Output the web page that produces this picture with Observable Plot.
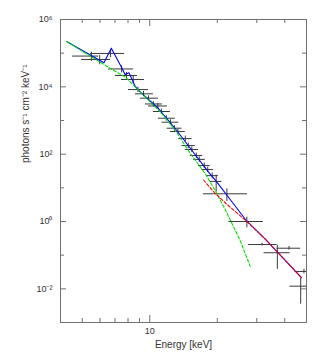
<!DOCTYPE html>
<html>
<head>
<meta charset="utf-8">
<script src="https://cdn.jsdelivr.net/npm/d3@7"></script>
<script src="https://cdn.jsdelivr.net/npm/@observablehq/plot@0.6"></script>
<style>
  html, body { margin: 0; padding: 0; background: #fff; }
  #chart svg { display: block; }
</style>
</head>
<body>
<div id="chart"></div>
<script>
// ---- Data points (energy bins, flux, 1-sigma error) ----
const binLo  = [4.52, 4.97, 5.45, 6.55, 7.04, 7.48, 8.04, 8.64, 9.09, 9.57, 9.87, 10.38, 10.93, 11.35, 11.95, 12.36, 13.46, 13.93, 14.41, 15.17, 15.69, 16.51, 17.10, 17.99, 18.61, 17.38, 22.54, 27.54, 32.34, 36.95, 44.43, 42.21];
const binHi  = [5.92, 6.69, 7.72, 8.47, 8.82, 9.47, 9.87, 10.38, 10.93, 11.39, 11.99, 12.36, 13.01, 13.46, 13.93, 14.41, 15.43, 15.96, 16.51, 17.20, 17.69, 18.61, 19.24, 20.26, 20.98, 27.27, 32.11, 36.95, 42.21, 47.10, 52.86, 50.0];
const binMid = [5.49, 5.98, 6.69, 7.49, 7.88, 8.44, 8.86, 9.38, 9.87, 10.38, 10.87, 11.27, 11.86, 12.36, 12.88, 13.35, 14.41, 14.86, 15.40, 16.13, 16.63, 17.50, 18.14, 18.99, 19.78, 22.08, 27.10, 31.69, 37.06, 41.78, 48.7, 47.10];
const flux   = [8.2e4, 6.5e4, 9.8e4, 3.4e4, 2.17e4, 1.65e4, 8.3e3, 6.2e3, 4.6e3, 3.1e3, 2.7e3, 1850, 1170, 890, 590, 470, 290, 180, 138, 91, 70, 46, 35, 23, 15.5, 6.65, 1.0, 0.207, 0.118, 0.161, 0.0328, 0.012];
const fluxErr= [2.5e4, 2.0e4, 2.5e4, 8e3, 5e3, 4e3, 1500, 1100, 800, 550, 480, 330, 210, 160, 110, 85, 52, 33, 25, 17, 13, 8.5, 6.5, 4.5, 8, 2.7, 0.35, 0.02, 0.08, 0.02, 0.005, 0.0085];

// ---- Model curves ----
const totalE    = [4.26, 6.25, 6.74, 7.54, 7.76, 8.08, 8.34, 8.64, 9.09, 10.96, 13.01, 15.43, 18.29, 19.93, 22.84, 27.10, 32.67, 47.56];
const totalF    = [2.22e5, 5.18e4, 1.41e5, 3.44e4, 2.32e4, 2.61e4, 1.65e4, 9.9e3, 6.93e3, 2.23e3, 568, 128.5, 29.2, 14.7, 4.51, 1.02, 0.303, 0.0213];
const thermalE  = [4.26, 6.68, 7.80, 8.94, 11.35, 13.01, 15.17, 17.69, 19.59, 21.70, 25.30, 28.03];
const thermalF  = [2.22e5, 3.5e4, 1.93e4, 7.78e3, 1.58e3, 505, 105, 26.1, 8.34, 2.28, 0.273, 0.0471];
const nonthermE = [17.38, 19.59, 22.38, 25.82, 28.03, 32.67, 47.56];
const nonthermF = [17.1, 6.79, 2.99, 1.32, 0.817, 0.303, 0.0213];

// ---- Ticks and labels ----
const xMajor = [10];
const xMinor = [5, 6, 7, 8, 9, 20, 30, 40];
const xTickLabels = ["10"];
const yMajor = [1e6, 1e4, 1e2, 1, 1e-2];
const yMinor = [1e5, 1e3, 10, 0.1];
const yTickLabels = ["10\u2076", "10\u2074", "10\u00B2", "10\u2070", "10\u207B\u00B2"];
const xTitle = "Energy [keV]";
const yTitle = "photons s\u207B\u00B9 cm\u207B\u00B2 keV\u207B\u00B9";

const W = 324, H = 360, mL = 60, mR = 18, mT = 19, mB = 38;
const innerW = W - mL - mR, innerH = H - mT - mB;

const points = binMid.map((e, i) => ({lo: binLo[i], hi: binHi[i], e, f: flux[i], fl: flux[i] - fluxErr[i], fh: flux[i] + fluxErr[i]}));
const total = totalE.map((e, i) => ({e, f: totalF[i]}));
const thermal = thermalE.map((e, i) => ({e, f: thermalF[i]}));
const nontherm = nonthermE.map((e, i) => ({e, f: nonthermF[i]}));

const axisColor = "#707070";
const textColor = "#333";
const crossColor = "#3a3a3a";

const chart = Plot.plot({
  width: W, height: H,
  marginLeft: mL, marginRight: mR, marginTop: mT, marginBottom: mB,
  style: {fontFamily: "'Liberation Sans', Arial, sans-serif", background: "#fff"},
  x: {type: "log", domain: [4, 50], axis: null},
  y: {type: "log", domain: [1e-3, 1e6], axis: null},
  marks: [
    // data crosses
    Plot.ruleY(points, {y: "f", x1: "lo", x2: "hi", stroke: crossColor, strokeWidth: 1, clip: true}),
    Plot.ruleX(points, {x: "e", y1: "fl", y2: "fh", stroke: crossColor, strokeWidth: 1, clip: true}),
    // model curves
    Plot.line(total, {x: "e", y: "f", stroke: "#0000ff", strokeWidth: 1.1}),
    Plot.line(thermal, {x: "e", y: "f", stroke: "#00e000", strokeWidth: 1.1, strokeDasharray: "3,2"}),
    Plot.line(nontherm, {x: "e", y: "f", stroke: "#ff0000", strokeWidth: 1.1, strokeDasharray: "3,2"}),
    // frame
    Plot.frame({stroke: axisColor}),
    // inward ticks
    Plot.tickX(xMajor, {x: d => d, insetTop: innerH - 7, stroke: axisColor}),
    Plot.tickX(xMajor, {x: d => d, insetBottom: innerH - 7, stroke: axisColor}),
    Plot.tickX(xMinor, {x: d => d, insetTop: innerH - 4, stroke: axisColor}),
    Plot.tickX(xMinor, {x: d => d, insetBottom: innerH - 4, stroke: axisColor}),
    Plot.tickY(yMajor, {y: d => d, insetRight: innerW - 6, stroke: axisColor}),
    Plot.tickY(yMajor, {y: d => d, insetLeft: innerW - 6, stroke: axisColor}),
    Plot.tickY(yMinor, {y: d => d, insetRight: innerW - 4, stroke: axisColor}),
    Plot.tickY(yMinor, {y: d => d, insetLeft: innerW - 4, stroke: axisColor}),
    // tick labels
    Plot.text(xMajor, {x: d => d, text: (d, i) => xTickLabels[i], frameAnchor: "bottom", dy: 11, fontSize: 9, fill: textColor}),
    Plot.text(yMajor, {y: d => d, text: (d, i) => yTickLabels[i], frameAnchor: "left", dx: -8, textAnchor: "end", fontSize: 9, fill: textColor}),
    // titles
    Plot.text([xTitle], {text: d => d, frameAnchor: "bottom", dy: 25, fontSize: 10, fill: textColor}),
    Plot.text([yTitle], {text: d => d, frameAnchor: "left", dx: -35, dy: -8, rotate: -90, fontSize: 10, fill: textColor})
  ]
});
document.getElementById("chart").appendChild(chart);
</script>
</body>
</html>
